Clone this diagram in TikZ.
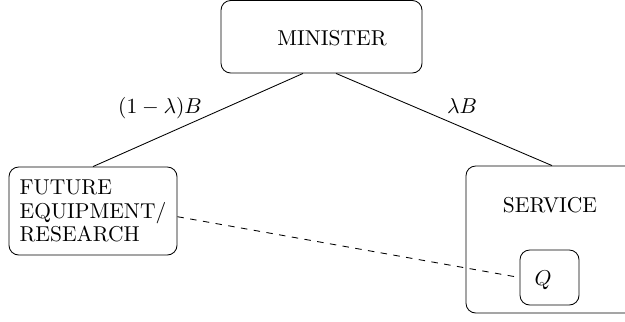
\documentclass[tikz,border=0pt]{standalone}
\def\upx{0.4651pt}
\tikzset{
  box/.style={draw, rounded corners=4.5pt, inner sep=0pt},
  lbl/.style={anchor=base, inner sep=0pt},
}
\begin{document}
\begin{tikzpicture}[x=0.4651pt,y=-0.4651pt]
\useasboundingbox (0,0) rectangle (625,321);
\clip (0,0) rectangle (625,321);
\node[box, minimum width=201*\upx, minimum height=72.5*\upx] (min) at (321.5,36.75) {};
\node[lbl] (mintext) at (332,45) {MINISTER};
\node[box, minimum width=168*\upx, minimum height=88*\upx, align=left, font=\fontsize{10}{11}\selectfont] (fut) at (93,211) {FUTURE\\EQUIPMENT/\\RESEARCH};
\node[box, minimum width=172*\upx, minimum height=147*\upx] (srv) at (552,239.5) {};
\node[lbl] (srvtext) at (550,212) {SERVICE};
\node[box, minimum width=59*\upx, minimum height=55*\upx] (q) at (549.5,277.5) {};
\node[lbl] (qtext) at (543,285) {$Q$};
\draw ([xshift=-18.5*\upx]min.south) -- (fut.north);
\draw ([xshift=14.5*\upx]min.south) -- (srv.north);
\draw[dashed] ([yshift=-5.7*\upx]fut.east) -- (q.west);
\node[lbl] (l1) at (160,113) {$(1-\lambda)B$};
\node[lbl] (l2) at (462,113) {$\lambda B$};
\end{tikzpicture}
\end{document}
